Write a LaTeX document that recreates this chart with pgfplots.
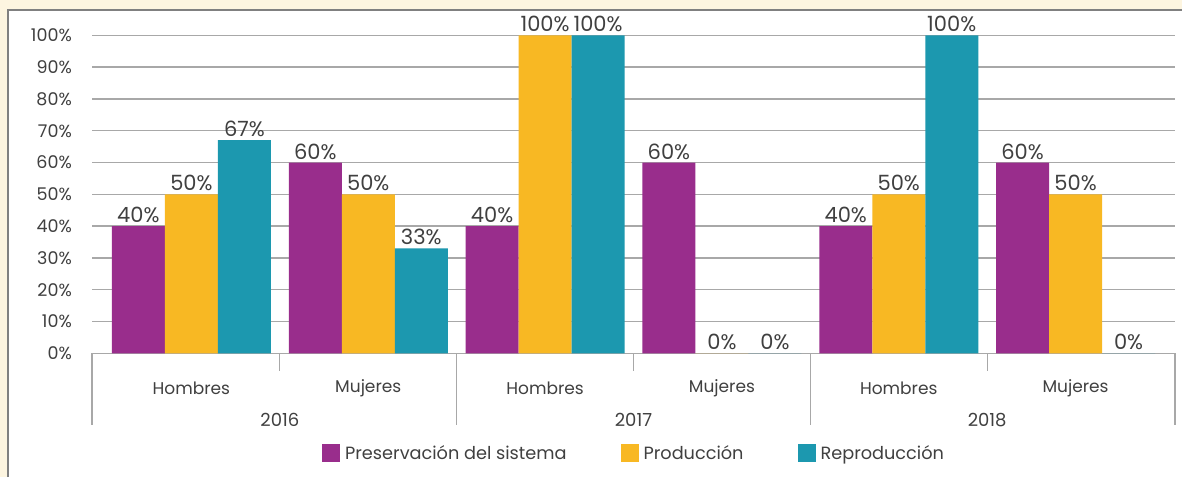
\documentclass[border=0pt]{standalone}
\usepackage{pgfplots}
\pgfplotsset{compat=1.18}
\usepackage{fontspec}
\setmainfont{Poppins}
\definecolor{cream}{HTML}{FDF5E0}
\definecolor{bordergray}{HTML}{808080}
\definecolor{gridgray}{HTML}{A8A8A8}
\definecolor{txt}{HTML}{404040}
\definecolor{cpurple}{HTML}{992D8C}
\definecolor{cyellow}{HTML}{F8B823}
\definecolor{cteal}{HTML}{1C98AF}
\begin{document}
\begin{tikzpicture}[x=1pt,y=1pt]
\useasboundingbox (0,0) rectangle (1182,477);
\fill[cream] (0,0) rectangle (1182,477);
\fill[white] (8,0) rectangle (1182,467);
\draw[bordergray, line width=2pt] (8,0) -- (8,467) -- (1182,467);
\begin{axis}[
  at={(92pt,123.7pt)}, anchor=south west,
  scale only axis, width=1083pt, height=318pt,
  clip=false,
  ybar=0pt, bar width=53pt,
  xmin=-0.0622, xmax=6.0622, ymin=0, ymax=100,
  axis line style={draw=none},
  major tick length=0pt,
  ymajorgrids, grid style={gridgray, line width=1.3pt},
  ytick={0,10,...,100},
  yticklabel={\pgfmathprintnumber{\tick}\%},
  /pgf/number format/assume math mode=true,
  yticklabel style={anchor=east, inner sep=0pt, xshift=-20pt, font=\fontsize{17.5}{20}\selectfont, text=txt},
  xtick={0.5,1.5,2.5,3.5,4.5,5.5},
  xticklabels={Hombres,Mujeres,Hombres,Mujeres,Hombres,Mujeres},
  xticklabel style={anchor=center, inner sep=0pt, yshift=-34.7pt, font=\fontsize{17}{20}\selectfont, text=txt},
  nodes near coords={\pgfmathprintnumber{\pgfplotspointmeta}\%},
  nodes near coords style={font=\fontsize{21}{24}\selectfont, text=txt, anchor=south, inner sep=0pt, yshift=3pt},
  legend style={at={(axis description cs:0.5005,-0.3135)}, anchor=center, legend columns=3, draw=none, fill=none,
    font=\fontsize{17.7}{20}\selectfont, text=txt,
    /tikz/every odd column/.append style={column sep=3pt},
    /tikz/every even column/.append style={column sep=52pt}},
  legend image code/.code={\fill[#1] (0pt,-9pt) rectangle (18pt,9pt);},
]
\addplot[fill=cpurple, draw=none] coordinates {(0.5,40) (1.5,60) (2.5,40) (3.5,60) (4.5,40) (5.5,60)};
\addplot[fill=cyellow, draw=none] coordinates {(0.5,50) (1.5,50) (2.5,100) (3.5,0) (4.5,50) (5.5,50)};
\addplot[fill=cteal, draw=none] coordinates {(0.5,67) (1.5,33) (2.5,100) (3.5,0) (4.5,100) (5.5,0)};
\legend{Preservación del sistema,Producción,Reproducción}
\draw[gridgray, line width=1.3pt] (axis cs:-0.0622,0) -- ([yshift=-72pt]axis cs:-0.0622,0);
\draw[gridgray, line width=1.3pt] (axis cs:2,0) -- ([yshift=-72pt]axis cs:2,0);
\draw[gridgray, line width=1.3pt] (axis cs:4,0) -- ([yshift=-72pt]axis cs:4,0);
\draw[gridgray, line width=1.3pt] (axis cs:6.0622,0) -- ([yshift=-72pt]axis cs:6.0622,0);
\draw[gridgray, line width=1.3pt] (axis cs:1,0) -- ([yshift=-18pt]axis cs:1,0);
\draw[gridgray, line width=1.3pt] (axis cs:3,0) -- ([yshift=-18pt]axis cs:3,0);
\draw[gridgray, line width=1.3pt] (axis cs:5,0) -- ([yshift=-18pt]axis cs:5,0);
\node[font=\fontsize{18}{21}\selectfont, text=txt, inner sep=0pt] at ([yshift=-66.7pt]axis cs:1,0) {2016};
\node[font=\fontsize{18}{21}\selectfont, text=txt, inner sep=0pt] at ([yshift=-66.7pt]axis cs:3,0) {2017};
\node[font=\fontsize{18}{21}\selectfont, text=txt, inner sep=0pt] at ([yshift=-66.7pt]axis cs:5,0) {2018};
\end{axis}
\end{tikzpicture}
\end{document}
